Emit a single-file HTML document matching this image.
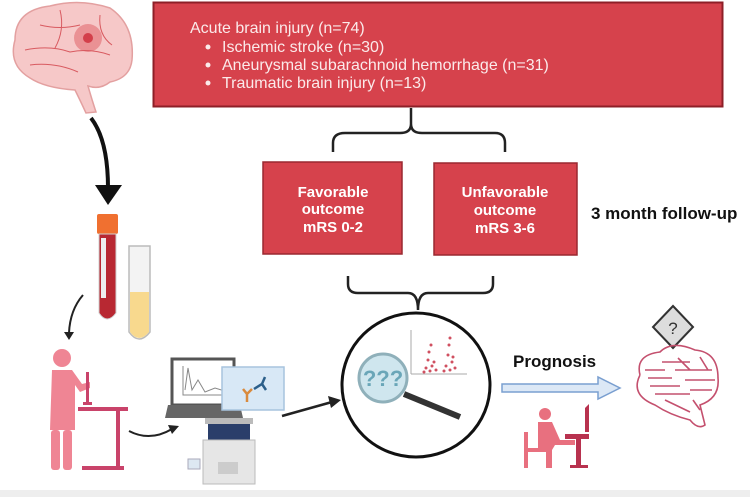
<!DOCTYPE html>
<html><head><meta charset="utf-8"><style>
html,body{margin:0;padding:0;background:#fff;}
svg{display:block;}
text{font-family:"Liberation Sans",sans-serif;}
</style></head><body>
<svg width="750" height="497" viewBox="0 0 750 497" xmlns="http://www.w3.org/2000/svg">
<rect width="750" height="497" fill="#fff"/>
<rect x="0" y="490" width="750" height="7" fill="#eeeeee"/>

<!-- top box -->
<rect x="153.5" y="2.5" width="569" height="104" fill="#d6424c" stroke="#8e1f27" stroke-width="2"/>
<g fill="#fbeaea" font-size="16">
<text x="190" y="33">Acute brain injury (n=74)</text>
<circle cx="208" cy="47" r="2.5"/><text x="222" y="52">Ischemic stroke  (n=30)</text>
<circle cx="208" cy="65" r="2.5"/><text x="222" y="70">Aneurysmal subarachnoid hemorrhage (n=31)</text>
<circle cx="208" cy="83" r="2.5"/><text x="222" y="88">Traumatic brain injury (n=13)</text>
</g>

<!-- top brace -->
<path d="M411 108 V124 Q411 133 400 133 H345 Q333 133 333 143 V152 M411 124 Q411 133 422 133 H495 Q505 133 505 143 V152" fill="none" stroke="#222" stroke-width="2.5"/>

<!-- outcome boxes -->
<rect x="263" y="162" width="139" height="92" fill="#d6424c" stroke="#9a2830" stroke-width="1.5"/>
<rect x="434" y="163" width="143" height="92" fill="#d6424c" stroke="#9a2830" stroke-width="1.5"/>
<g fill="#fff" font-size="15" font-weight="bold" text-anchor="middle">
<text x="333" y="197">Favorable</text><text x="333" y="214">outcome</text><text x="333" y="232">mRS 0-2</text>
<text x="505" y="197">Unfavorable</text><text x="505" y="215">outcome</text><text x="505" y="233">mRS 3-6</text>
</g>
<text x="591" y="219" font-size="17" font-weight="bold" fill="#111">3 month follow-up</text>

<!-- lower brace -->
<path d="M348 276 V284 Q348 293 358 293 H408 Q418 293 418 310 Q418 293 428 293 H483 Q493 293 493 284 V276" fill="none" stroke="#222" stroke-width="2.5"/>

<!-- circle -->
<ellipse cx="416" cy="385" rx="74" ry="72" fill="#fff" stroke="#111" stroke-width="3"/>
<line x1="411" y1="330" x2="411" y2="374" stroke="#aaa" stroke-width="1"/>
<line x1="411" y1="374" x2="467" y2="374" stroke="#aaa" stroke-width="1"/>
<g fill="#d05060">
<circle cx="428" cy="360" r="1.5"/><circle cx="432" cy="366" r="1.5"/><circle cx="426" cy="368" r="1.5"/><circle cx="430" cy="371" r="1.5"/><circle cx="434" cy="362" r="1.5"/><circle cx="429" cy="352" r="1.5"/><circle cx="424" cy="372" r="1.5"/><circle cx="436" cy="370" r="1.5"/><circle cx="431" cy="345" r="1.5"/>
<circle cx="448" cy="355" r="1.5"/><circle cx="452" cy="362" r="1.5"/><circle cx="446" cy="366" r="1.5"/><circle cx="450" cy="370" r="1.5"/><circle cx="455" cy="368" r="1.5"/><circle cx="449" cy="345" r="1.5"/><circle cx="444" cy="371" r="1.5"/><circle cx="453" cy="357" r="1.5"/><circle cx="450" cy="338" r="1.5"/>
</g>
<line x1="404" y1="394" x2="460" y2="417" stroke="#333" stroke-width="6"/>
<circle cx="383" cy="378" r="24" fill="#cfe6ee" stroke="#8fb0ba" stroke-width="3"/>
<text x="383" y="386" font-size="22" fill="#6aa6b8" text-anchor="middle" font-weight="bold">???</text>

<!-- prognosis -->
<text x="513" y="367" font-size="17" font-weight="bold" fill="#111">Prognosis</text>
<path d="M502 384 H598 V377 L620 388 L598 399 V392 H502 Z" fill="#dce8f6" stroke="#7a9fd0" stroke-width="1.5"/>

<!-- diamond -->
<path d="M673 306 L693 327 L673 348 L653 327 Z" fill="#ddd" stroke="#333" stroke-width="2"/>
<text x="673" y="334" font-size="17" text-anchor="middle" fill="#333">?</text>

<!-- circuit brain -->
<g fill="none" stroke="#c4506e" stroke-width="1.6">
<path d="M640 375 Q635 355 660 352 Q672 340 695 350 Q718 352 718 378 Q720 398 700 405 L705 425 Q698 430 690 420 Q670 415 655 405 Q630 395 640 375"/>
<path d="M645 370 H665 M648 378 H672 M650 386 H680 M655 394 H690 M662 362 H690 M675 370 H712 M685 380 H715 M690 390 H712 M693 400 L700 410 M678 358 L690 370 M700 357 L708 370 M665 400 L690 412"/>
</g>

<!-- person at desk -->
<g fill="#e8707f">
<circle cx="545" cy="414" r="6"/>
<path d="M538 422 H552 L560 440 H575 V445 H555 L552 450 V468 H546 V452 H538 Z"/>
<rect x="524" y="432" width="4" height="36"/>
<rect x="524" y="448" width="20" height="4"/>
<path d="M585 408 L589 404 L589 432 L585 432 Z" fill="#b8324f"/>
<rect x="565" y="434" width="24" height="5" fill="#b8324f"/>
<rect x="576" y="439" width="5" height="29" fill="#b8324f"/>
<rect x="570" y="465" width="18" height="3" fill="#b8324f"/>
</g>

<!-- brain top-left -->
<g>
<path d="M15 40 Q15 10 50 6 Q80 -2 110 8 Q135 25 132 60 Q130 78 110 82 Q100 90 88 86 Q92 100 96 112 L86 113 Q80 100 75 90 Q45 88 30 78 Q8 65 15 40 Z" fill="#f6c8c8" stroke="#e3a0a0" stroke-width="1.5"/>
<circle cx="88" cy="38" r="14" fill="#e26d72" opacity="0.6"/>
<circle cx="88" cy="38" r="5" fill="#d33f4a"/>
<path d="M25 50 Q50 45 70 52 Q90 48 110 55 M40 25 Q60 30 80 25 M30 65 Q55 62 78 72 M60 10 Q65 30 55 48 M100 15 Q98 35 112 45" fill="none" stroke="#d85a60" stroke-width="1"/>
</g>
<!-- black arrow -->
<path d="M91 118 Q108 140 108 188" fill="none" stroke="#111" stroke-width="4"/>
<path d="M95 185 H122 L108 205 Z" fill="#111"/>

<!-- tubes -->
<rect x="97" y="214" width="21" height="20" rx="2" fill="#f07030"/>
<path d="M99 234 H116 V313 Q107 325 99 313 Z" fill="#b82832" stroke="#d0d0d0" stroke-width="1"/>
<rect x="101" y="238" width="5" height="60" fill="#eee"/>
<path d="M129 246 H150 V332 Q139 346 129 332 Z" fill="#f3f3f3" stroke="#bbb" stroke-width="1.5"/>
<path d="M130 292 H149 V332 Q139 344 130 332 Z" fill="#f8d98e"/>

<!-- small arrow -->
<path d="M83 295 Q70 310 69 333" fill="none" stroke="#222" stroke-width="2"/>
<path d="M64 332 L69 340 L74 332 Z" fill="#222"/>

<!-- lab person -->
<g fill="#ef8594">
<circle cx="62" cy="358" r="9"/>
<path d="M52 370 H72 L82 384 L90 382 V388 L80 392 L75 385 V430 H50 Z"/>
<rect x="51" y="430" width="9" height="40" rx="3"/>
<rect x="63" y="430" width="9" height="40" rx="3"/>
</g>
<g fill="#c9436a">
<rect x="78" y="407" width="50" height="4"/>
<rect x="116" y="411" width="4" height="57"/>
<rect x="82" y="466" width="42" height="4"/>
<rect x="86" y="372" width="3" height="30"/>
<rect x="83" y="402" width="9" height="3"/>
</g>

<!-- arrow to machine -->
<path d="M129 431 Q150 442 172 429" fill="none" stroke="#222" stroke-width="2"/>
<path d="M168 425 L179 426 L172 434 Z" fill="#222"/>

<!-- laptop -->
<rect x="172" y="359" width="62" height="46" fill="#fff" stroke="#555" stroke-width="3"/>
<path d="M183 366 V395 H230 M185 390 L188 368 L192 390 L198 380 L205 392 L215 388 L228 392" fill="none" stroke="#888" stroke-width="1"/>
<path d="M168 405 H240 L243 418 H165 Z" fill="#666"/>
<rect x="222" y="367" width="62" height="43" fill="#d8e8f6" stroke="#a7c4de" stroke-width="1.5"/>
<path d="M247 402 V394 L243 389 M247 394 L252 389" fill="none" stroke="#d98a3d" stroke-width="2.5"/>
<path d="M254 389 L262 384 L266 390 M262 384 L265 377" fill="none" stroke="#2c5f8a" stroke-width="2.5"/>
<!-- machine -->
<rect x="205" y="418" width="48" height="6" fill="#bbb"/>
<rect x="208" y="424" width="42" height="16" fill="#2a3e6a"/>
<rect x="203" y="440" width="52" height="44" fill="#e6e6e6" stroke="#bbb"/>
<rect x="188" y="459" width="12" height="10" fill="#dde8f2" stroke="#aab"/>
<rect x="218" y="462" width="20" height="12" fill="#ccc"/>

<!-- arrow to circle -->
<line x1="282" y1="416" x2="332" y2="402" stroke="#222" stroke-width="2.5"/>
<path d="M328 396 L341 400 L331 408 Z" fill="#222"/>
</svg>
</body></html>
